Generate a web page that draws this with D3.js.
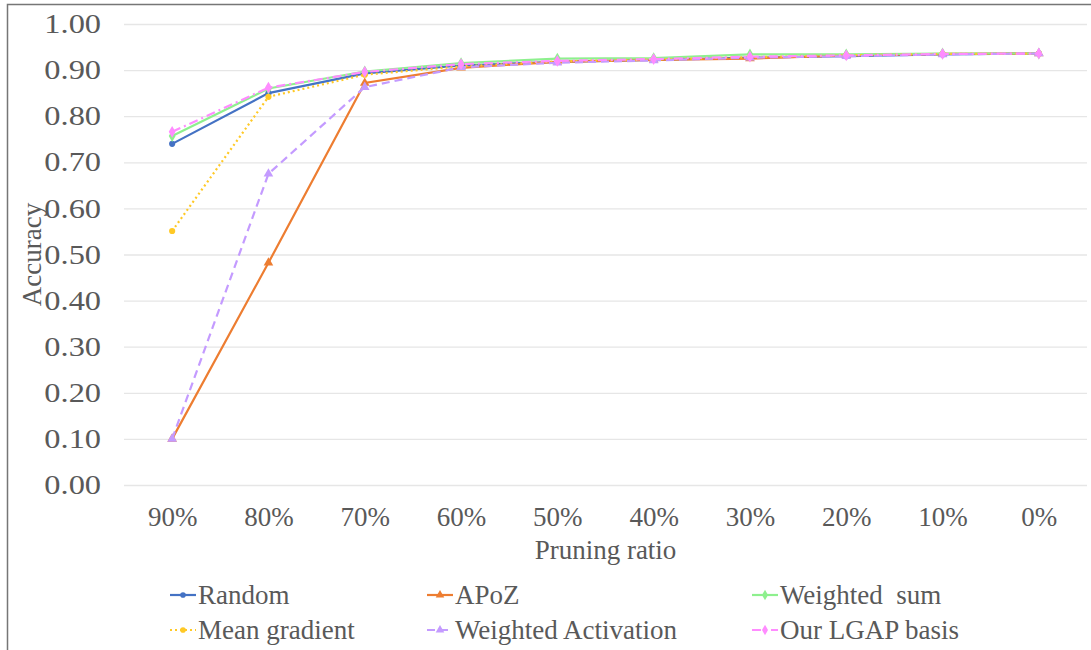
<!DOCTYPE html>
<html>
<head>
<meta charset="utf-8">
<script src="https://cdn.jsdelivr.net/npm/d3@7"></script>
<style>
  body { margin: 0; background: #fff; }
</style>
</head>
<body>
<div id="chart"></div>
<script>
// Categories along the x axis
var ratios = ["90%", "80%", "70%", "60%", "50%", "40%", "30%", "20%", "10%", "0%"];
var yTicks = [0, 0.1, 0.2, 0.3, 0.4, 0.5, 0.6, 0.7, 0.8, 0.9, 1.0];

// Accuracy per method
var random     = [0.740, 0.850, 0.893, 0.910, 0.918, 0.922, 0.927, 0.930, 0.934, 0.936];
var apoz       = [0.100, 0.482, 0.872, 0.905, 0.918, 0.922, 0.925, 0.932, 0.935, 0.936];
var weightSum  = [0.757, 0.860, 0.897, 0.915, 0.925, 0.926, 0.934, 0.934, 0.936, 0.936];
var meanGrad   = [0.551, 0.842, 0.890, 0.908, 0.919, 0.923, 0.928, 0.932, 0.935, 0.936];
var weightAct  = [0.100, 0.675, 0.863, 0.906, 0.916, 0.921, 0.927, 0.930, 0.934, 0.936];
var lgap       = [0.766, 0.862, 0.896, 0.913, 0.920, 0.924, 0.929, 0.932, 0.935, 0.936];

var series = [
  { name: "Random",              values: random,    color: "#4472C4", dash: null,      marker: "circle" },
  { name: "APoZ",                values: apoz,      color: "#ED7D31", dash: null,      marker: "triangle" },
  { name: "Weighted  sum",       values: weightSum, color: "#8EF08E", dash: null,      marker: "diamond" },
  { name: "Mean gradient",       values: meanGrad,  color: "#FFC926", dash: "2,3",     marker: "circle" },
  { name: "Weighted Activation", values: weightAct, color: "#C49BFF", dash: "8,5",     marker: "triangle" },
  { name: "Our LGAP basis",      values: lgap,      color: "#FF8CFF", dash: "9,4,2,4", marker: "diamond" }
];

var width = 1091, height = 650;
var plotLeft = 124, plotRight = 1087, plotTop = 24, plotBottom = 485;
var fontSize = "27px";
var fontFam = "'Liberation Serif', 'Times New Roman', serif";
var textColor = "#595959";

var svg = d3.select("div#chart")
            .append("svg")
            .attr("width", width)
            .attr("height", height);

// frame on the left and top edges
svg.append("path")
   .attr("d", "M7.5," + height + "V4.5H" + width)
   .attr("fill", "none")
   .attr("stroke", "#767676")
   .attr("stroke-width", 1.5);

var x = d3.scalePoint()
          .domain(ratios)
          .range([plotLeft, plotRight])
          .padding(0.5);

var y = d3.scaleLinear()
          .domain([0, 1])
          .range([plotBottom, plotTop]);

function styleText(sel) {
  sel.style("font-family", fontFam)
     .style("font-size", fontSize)
     .attr("fill", textColor);
}

// gridlines + y labels
var yAxis = d3.axisLeft(y)
              .tickValues(yTicks)
              .tickSize(-(plotRight - plotLeft))
              .tickFormat(d3.format(".2f"));

var gy = svg.append("g")
            .attr("transform", "translate(" + plotLeft + ",0)")
            .call(yAxis);
gy.select(".domain").remove();
gy.selectAll(".tick line").attr("stroke", "#E6E6E6").attr("stroke-width", 1.3);
// y labels in the reference are drawn a bit wider than the rest
var yStretch = 1.2;
gy.selectAll(".tick text")
  .call(styleText)
  .attr("x", -23 / yStretch)
  .attr("transform", "scale(" + yStretch + ",1)");

// x labels
var xAxis = d3.axisBottom(x).tickSize(0).tickPadding(22);
var gx = svg.append("g")
            .attr("transform", "translate(0," + plotBottom + ")")
            .call(xAxis);
gx.select(".domain").remove();
gx.selectAll(".tick text").call(styleText);

// axis titles
svg.append("text")
   .attr("x", (plotLeft + plotRight) / 2)
   .attr("y", 559)
   .attr("text-anchor", "middle")
   .call(styleText)
   .text("Pruning ratio");

svg.append("text")
   .attr("transform", "translate(41," + ((plotTop + plotBottom) / 2) + ") rotate(-90)")
   .attr("text-anchor", "middle")
   .call(styleText)
   .text("Accuracy");

var line = d3.line()
             .x(function(d, i) { return x(ratios[i]); })
             .y(function(d) { return y(d); });

function symbolFor(m) {
  if (m === "triangle") return d3.symbolTriangle;
  if (m === "diamond") return d3.symbolDiamond;
  return d3.symbolCircle;
}

var plot = svg.append("g");

series.forEach(function(s) {
  plot.append("path")
      .datum(s.values)
      .attr("fill", "none")
      .attr("stroke", s.color)
      .attr("stroke-width", 2.2)
      .attr("stroke-dasharray", s.dash)
      .attr("d", line);

  plot.selectAll(null)
      .data(s.values)
      .enter()
      .append("path")
      .attr("transform", function(d, i) { return "translate(" + x(ratios[i]) + "," + y(d) + ")"; })
      .attr("d", d3.symbol().type(symbolFor(s.marker)).size(s.marker === "circle" ? 30 : 40))
      .attr("fill", s.color);
});

// legend: 3 columns, 2 rows
var legX = [170, 427, 752];
var legY = [595, 630];

var leg = svg.append("g")
             .selectAll("g")
             .data(series)
             .enter()
             .append("g")
             .attr("transform", function(d, i) {
               return "translate(" + legX[i % 3] + "," + legY[Math.floor(i / 3)] + ")";
             });

leg.append("line")
   .attr("x1", 0).attr("x2", 26)
   .attr("y1", 0).attr("y2", 0)
   .attr("stroke", function(d) { return d.color; })
   .attr("stroke-width", 2.2)
   .attr("stroke-dasharray", function(d) { return d.dash; });

leg.append("path")
   .attr("transform", "translate(13,0)")
   .attr("d", function(d) { return d3.symbol().type(symbolFor(d.marker)).size(d.marker === "circle" ? 25 : 32)(); })
   .attr("fill", function(d) { return d.color; });

leg.append("text")
   .attr("x", 28)
   .attr("y", 9)
   .call(styleText)
   .style("white-space", "pre")
   .text(function(d) { return d.name; });
</script>
</body>
</html>
